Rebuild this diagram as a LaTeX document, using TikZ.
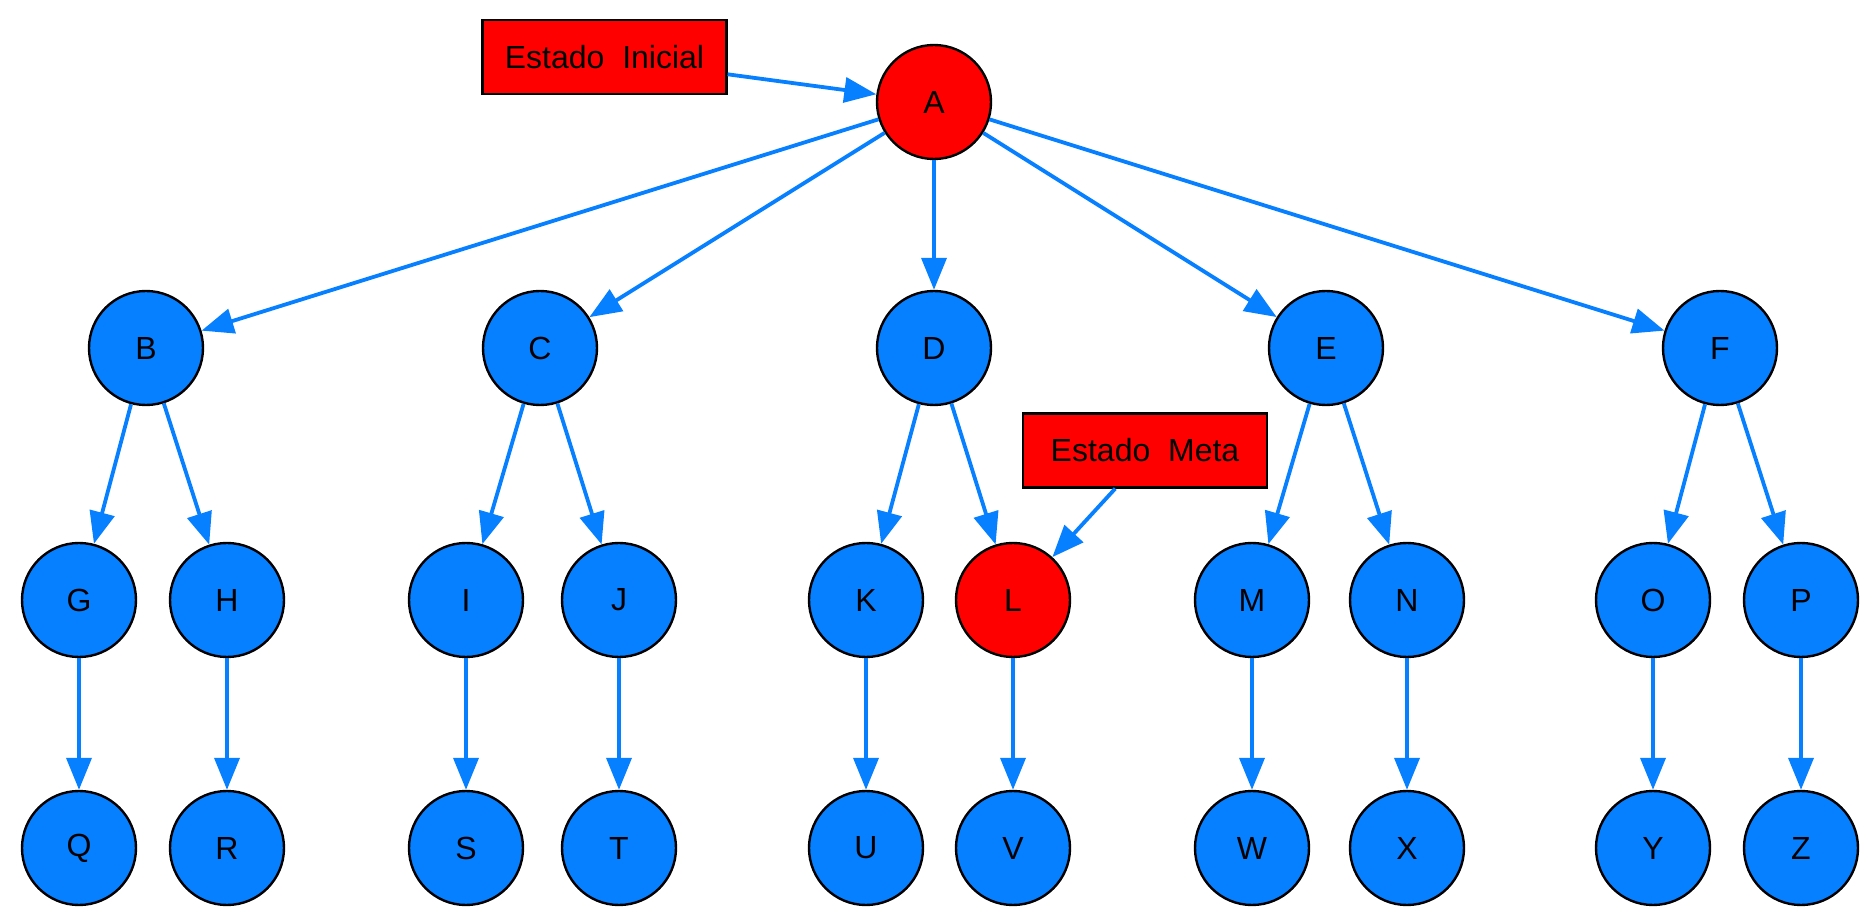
\documentclass[tikz,border=0pt]{standalone}
\usepackage{fontspec}
\setmainfont{Liberation Sans}
\usetikzlibrary{positioning,arrows.meta}
\definecolor{statecol}{HTML}{0780FF}
\definecolor{markcol}{HTML}{FF0000}

\begin{document}
\begin{tikzpicture}[x=0.5pt,y=-0.5pt,
   font=\fontsize{16}{19}\selectfont,
   state/.style={circle,draw=black,fill=statecol,line width=1.2pt,
              minimum size=57pt,inner sep=0pt},
   goal/.style={state,fill=markcol},
   tag/.style={draw=black,fill=markcol,line width=1.1pt,
              minimum width=122pt,minimum height=37pt,inner sep=2pt},
   edge/.style={draw=statecol,line width=1.9pt,-{Triangle[length=16pt,width=12.5pt]}},
   node distance=124pt,on grid,
]
\useasboundingbox (0,0) rectangle (1875,924);

% root and marker boxes
\node[goal] (A) at (934,102) {A};
\node[tag] (ini) at (604.5,57) {Estado\ \ Inicial};
\node[tag] (meta) at (1145,450.5) {Estado\ \ Meta};

% second level
\node[state] (B) at (146,348)  {B};
\node[state] (C) at (540,348)  {C};
\node[state] (D) at (934,348)  {D};
\node[state] (E) at (1326,348) {E};
\node[state] (F) at (1720,348) {F};

% third level
\node[state] (G) at (79,600)   {G};
\node[state] (H) at (227,600)  {H};
\node[state] (I) at (466,600)  {I};
\node[state] (J) at (619,600)  {J};
\node[state] (K) at (866,600)  {K};
\node[goal]  (L) at (1013,600) {L};
\node[state] (M) at (1252,600) {M};
\node[state] (N) at (1407,600) {N};
\node[state] (O) at (1653,600) {O};
\node[state] (P) at (1801,600) {P};

% leaves
\node[state,below=of G] (Q) {Q};
\node[state,below=of H] (R) {R};
\node[state,below=of I] (S) {S};
\node[state,below=of J] (T) {T};
\node[state,below=of K] (U) {U};
\node[state,below=of L] (V) {V};
\node[state,below=of M] (W) {W};
\node[state,below=of N] (X) {X};
\node[state,below=of O] (Y) {Y};
\node[state,below=of P] (Z) {Z};

% markers
\draw[edge] (ini.-8) -- (A);
\draw[edge] (meta.-128) -- (L);

% tree edges
\draw[edge] (A) -- (B);
\draw[edge] (A) -- (C);
\draw[edge] (A) -- (D);
\draw[edge] (A) -- (E);
\draw[edge] (A) -- (F);
\draw[edge] (B) -- (G);
\draw[edge] (B) -- (H);
\draw[edge] (C) -- (I);
\draw[edge] (C) -- (J);
\draw[edge] (D) -- (K);
\draw[edge] (D) -- (L);
\draw[edge] (E) -- (M);
\draw[edge] (E) -- (N);
\draw[edge] (F) -- (O);
\draw[edge] (F) -- (P);
\draw[edge] (G) -- (Q);
\draw[edge] (H) -- (R);
\draw[edge] (I) -- (S);
\draw[edge] (J) -- (T);
\draw[edge] (K) -- (U);
\draw[edge] (L) -- (V);
\draw[edge] (M) -- (W);
\draw[edge] (N) -- (X);
\draw[edge] (O) -- (Y);
\draw[edge] (P) -- (Z);
\end{tikzpicture}
\end{document}
